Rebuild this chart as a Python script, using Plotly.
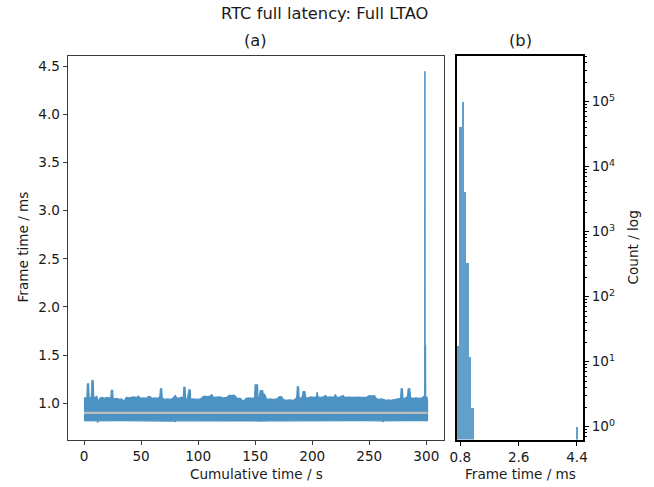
import plotly.graph_objects as go

# ---------------- data ----------------
# (a) frame-time trace: upper envelope of the dense trace (time s, frame time ms)
upper_t = [0.0, 1, 2.5, 3, 4, 4.5, 5.5, 6.5, 7, 8, 8.5, 10, 11, 12, 13, 14, 16, 18, 20, 22,
           23.5, 24, 25, 25.5, 27, 29, 31, 33, 35, 37, 40, 43, 46, 47.7, 49.5, 52, 55, 56, 58,
           59.5, 62, 65, 66.5, 67, 68, 68.5, 70, 73, 76, 78, 80, 81, 83, 85, 87, 87.5, 88.5,
           89, 90.5, 92, 93, 93.5, 96, 99, 102, 105, 108, 110.5, 112, 113.5, 116, 119, 122,
           125, 127.5, 129, 131, 132.5, 134, 137, 139.8, 142, 145, 148, 149.5, 150, 152,
           152.5, 153.5, 154.5, 156.5, 157, 158.5, 160, 163, 166, 169, 171.5, 173, 174.5,
           177, 180, 183, 185, 186.5, 187, 188, 188.5, 190, 191.5, 192, 193.5, 194.5, 196.5,
           199, 202, 203.8, 204.3, 205, 206.5, 209, 211.9, 213, 216, 219, 220.3, 221.5, 224,
           227, 228.5, 232, 236, 240, 244, 248, 250, 252.5, 254.5, 256, 258, 261, 264.5, 267,
           269, 272, 275, 277.5, 278, 279, 279.5, 281, 283.5, 284.2, 285.5, 286.2, 288, 291,
           294, 296.5, 297.6, 298.3, 298.6, 298.65, 298.85, 298.9, 299.3, 299.4, 300.5, 301]
upper_ms = [1.04, 1.06, 1.05, 1.20, 1.20, 1.06, 1.05, 1.07, 1.235, 1.235, 1.06, 1.06, 1.075,
            1.05, 1.01, 1.055, 1.06, 1.05, 1.06, 1.055, 1.06, 1.135, 1.135, 1.05, 1.045, 1.05,
            1.04, 1.045, 1.02, 1.06, 1.055, 1.065, 1.06, 1.075, 1.05, 1.055, 1.05, 1.07, 1.07,
            1.05, 1.055, 1.05, 1.07, 1.15, 1.15, 1.06, 1.04, 1.045, 1.04, 1.055, 1.08, 1.06,
            1.05, 1.06, 1.06, 1.165, 1.165, 1.05, 1.04, 1.14, 1.14, 1.04, 1.045, 1.04, 1.045,
            1.075, 1.07, 1.075, 1.09, 1.06, 1.06, 1.065, 1.055, 1.06, 1.085, 1.08, 1.085,
            1.075, 1.05, 1.05, 1.02, 1.05, 1.055, 1.05, 1.06, 1.19, 1.19, 1.05, 1.05, 1.13,
            1.13, 1.10, 1.09, 1.04, 1.045, 1.04, 1.045, 1.07, 1.07, 1.04, 1.03, 1.035, 1.03,
            1.04, 1.06, 1.17, 1.17, 1.06, 1.05, 1.07, 1.12, 1.12, 1.05, 1.06, 1.065, 1.06,
            1.07, 1.115, 1.07, 1.06, 1.065, 1.08, 1.06, 1.065, 1.06, 1.09, 1.06, 1.065, 1.08,
            1.06, 1.065, 1.06, 1.065, 1.06, 1.065, 1.08, 1.075, 1.08, 1.05, 1.04, 1.045, 1.03,
            1.035, 1.03, 1.04, 1.045, 1.05, 1.15, 1.15, 1.05, 1.05, 1.07, 1.15, 1.15, 1.06,
            1.05, 1.055, 1.05, 1.055, 1.07, 1.06, 1.07, 4.44, 4.44, 1.6, 1.6, 1.07, 1.06, 1.04]
# lower envelope of the trace
lower_t = [0, 10, 11.5, 12, 12.5, 30, 45, 60, 75, 79.5, 80, 80.5, 100, 120, 140, 155, 170,
           185, 200, 215, 230, 245, 261.5, 262, 262.5, 280, 301]
lower_ms = [0.82, 0.818, 0.818, 0.80, 0.818, 0.82, 0.815, 0.818, 0.815, 0.818, 0.805, 0.818,
            0.82, 0.818, 0.82, 0.815, 0.82, 0.818, 0.82, 0.815, 0.818, 0.82, 0.818, 0.805,
            0.818, 0.82, 0.82]
median_ms = 0.9

# (b) histogram of frame times (bin left edge ms, count)
bin_width_ms = 0.075
bin_left_ms = [0.676, 0.751, 0.826, 0.901, 0.976, 1.051, 1.126, 4.351]
bin_count = [18, 42000, 102000, 4100, 330, 12, 2, 1]

x_ticks_a = [0, 50, 100, 150, 200, 250, 300]
y_ticks_a = [1.0, 1.5, 2.0, 2.5, 3.0, 3.5, 4.0, 4.5]
x_ticks_b = [0.8, 2.6, 4.4]
y_ticks_b = [1, 10, 100, 1000, 10000, 100000]
y_ticktext_b = ["10<sup>0</sup>", "10<sup>1</sup>", "10<sup>2</sup>", "10<sup>3</sup>",
                "10<sup>4</sup>", "10<sup>5</sup>"]

# ---------------- figure ----------------
W, H = 654, 487
FONT = "DejaVu Sans"
TXT = "#1a1a1a"
TICK_SIZE = 13.6
TITLE_SIZE = 16.3
TRACE_COL = "#4c92c3"
HIST_COL = "#62a0ca"

fig = go.Figure()

# band trace (dense trace drawn as its envelope polygon)
poly_x = upper_t + lower_t[::-1]
poly_y = upper_ms + lower_ms[::-1]
fig.add_trace(go.Scatter(x=poly_x, y=poly_y, mode="lines", fill="toself",
                         fillcolor=TRACE_COL, line=dict(color=TRACE_COL, width=1.3),
                         xaxis="x", yaxis="y", hoverinfo="skip", showlegend=False))
fig.add_trace(go.Scatter(x=[upper_t[0], upper_t[-1]], y=[median_ms, median_ms], mode="lines",
                         line=dict(color="#bdbdbd", width=2.2),
                         xaxis="x", yaxis="y", showlegend=False))

bin_center = [b + bin_width_ms / 2 for b in bin_left_ms]
fig.add_trace(go.Bar(x=bin_center, y=bin_count, width=bin_width_ms,
                     marker=dict(color=HIST_COL, line=dict(width=0)),
                     xaxis="x2", yaxis="y2", showlegend=False))

# minor ticks for log axis
minor_vals = [m * 10 ** k for k in range(-1, 6) for m in range(2, 10)]

x1d = [67.7 / W, 444 / W]
x2d = [456.7 / W, 583 / W]
yd = [1 - 439.5 / H, 1 - 55.5 / H]

tickfont = dict(family=FONT, size=TICK_SIZE, color=TXT)

fig.update_layout(
    width=W, height=H,
    margin=dict(l=0, r=0, t=0, b=0),
    paper_bgcolor="white", plot_bgcolor="white",
    bargap=0,
    xaxis=dict(domain=x1d, range=[-14.3, 315.5], tickvals=x_ticks_a,
               showgrid=False, zeroline=False, showline=True, mirror=True,
               linecolor="#3a3a3a", linewidth=1, ticks="outside", ticklen=4,
               tickwidth=1, tickcolor="#3a3a3a", tickfont=tickfont, anchor="y",
               automargin=False),
    yaxis=dict(domain=yd, range=[0.624, 4.611], tickvals=y_ticks_a, tickformat=".1f",
               showgrid=False, zeroline=False, showline=True, mirror=True,
               linecolor="#3a3a3a", linewidth=1, ticks="outside", ticklen=4,
               tickwidth=1, tickcolor="#3a3a3a", tickfont=tickfont, anchor="x",
               automargin=False),
    xaxis2=dict(domain=x2d, range=[0.685, 4.586], tickvals=x_ticks_b,
                ticktext=["0.8", "2.6", "4.4"],
                showgrid=False, zeroline=False, showline=True, mirror=True,
                linecolor="black", linewidth=2, ticks="outside", ticklen=4,
                tickwidth=1, tickcolor="black", tickfont=tickfont, anchor="y2",
                automargin=False),
    yaxis2=dict(domain=yd, type="log", range=[-0.197, 5.71], side="right",
                tickvals=y_ticks_b, ticktext=y_ticktext_b,
                showgrid=False, zeroline=False, showline=True, mirror=True,
                linecolor="black", linewidth=2, ticks="outside", ticklen=4,
                tickwidth=1, tickcolor="black", tickfont=tickfont, anchor="x2",
                automargin=False,
                minor=dict(tickvals=minor_vals, ticks="outside", ticklen=2,
                           tickwidth=0.8, tickcolor="black", showgrid=False)),
)


def ann(text, px, py, size=TICK_SIZE, angle=0):
    fig.add_annotation(text=text, x=px / W, y=1 - py / H, xref="paper", yref="paper",
                       xanchor="center", yanchor="middle", showarrow=False, textangle=angle,
                       font=dict(family=FONT, size=size, color=TXT))


ann("RTC full latency: Full LTAO", 324, 14, TITLE_SIZE)
ann("(a)", 255, 41, TITLE_SIZE)
ann("(b)", 520, 41, TITLE_SIZE)
ann("Cumulative time / s", 256, 474)
ann("Frame time / ms", 520, 474)
ann("Frame time / ms", 22, 247.5, angle=-90)
ann("Count / log", 632, 247.5, angle=-90)

fig.write_html("out.html")
